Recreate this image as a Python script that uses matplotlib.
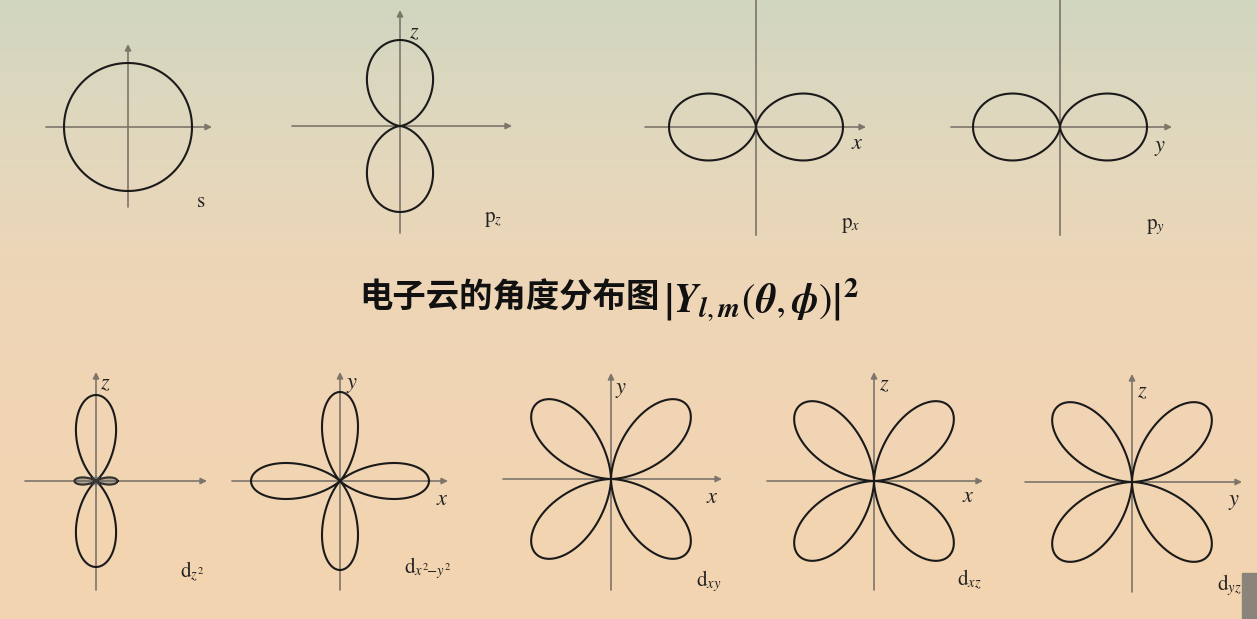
import numpy as np
import matplotlib
matplotlib.use("Agg")
import matplotlib.pyplot as plt

plt.rcParams['mathtext.fontset'] = 'stix'

# orbitals shown on the slide, top row then bottom row
shapes = ['s', 'pz', 'px', 'px', 'dz2', 'dx2y2', 'dxy', 'dxy', 'dxy']
orbital_labels = [r'$\mathrm{s}$', r'$\mathrm{p}_z$', r'$\mathrm{p}_x$', r'$\mathrm{p}_y$',
                  r'$\mathrm{d}_{z^2}$', r'$\mathrm{d}_{x^2\!\!-\!y^2}$',
                  r'$\mathrm{d}_{xy}$', r'$\mathrm{d}_{xz}$', r'$\mathrm{d}_{yz}$']
horiz_names = ['', '', 'x', 'y', '', 'x', 'x', 'x', 'y']
vert_names = ['', 'z', '', '', 'z', 'y', 'y', 'z', 'z']

title_cn = "电子云的角度分布图"
title_math = (r'$\left|\boldsymbol{Y}_{\boldsymbol{l,m}}\left(\boldsymbol{\theta},'
              r'\boldsymbol{\phi}\right)\right|^{\mathbf{2}}$')

# layout in pixels (y downwards)
centers = [(128, 127), (400, 126), (756, 127), (1060, 127),
           (96, 481), (340, 481), (611, 479), (874, 481), (1132, 482)]
scales = [64, 86, 87, 87, 86, 89, 106, 106, 106]
hspan = [(46, 212), (292, 512), (645, 866), (951, 1172),
         (25, 207), (232, 448), (503, 722), (767, 983), (1025, 1242)]
vspan = [(44, 207), (10, 233), (0, 235), (0, 235),
         (372, 590), (372, 590), (373, 590), (372, 590), (374, 592)]
up_arrow = [True, True, False, False, True, True, True, True, True]
label_pos = [(201, 201), (493, 219), (851, 225), (1155, 227),
             (192, 572), (428, 568), (709, 581), (969, 580), (1229, 585)]
hname_pos = [None, None, (857, 143), (1160, 148), None, (442, 499), (712, 497), (968, 496), (1234, 502)]
vname_pos = [None, (414, 32), None, None, (105, 383), (352, 385), (621, 390), (884, 384), (1142, 391)]


def shape_curve(kind):
    phi = np.linspace(0, 2 * np.pi, 1441)
    if kind == 's':
        r = np.ones_like(phi)
    elif kind == 'pz':
        r = np.sin(phi) ** 2
    elif kind == 'px':
        r = np.cos(phi) ** 2
    elif kind == 'dz2':
        r = (3 * np.sin(phi) ** 2 - 1) ** 2 / 4
    elif kind == 'dx2y2':
        r = np.cos(2 * phi) ** 2
    else:
        r = np.abs(np.sin(2 * phi)) ** 1.5
    return r * np.cos(phi), r * np.sin(phi)


fig = plt.figure(figsize=(12.57, 6.19), dpi=100)
ax = fig.add_axes([0, 0, 1, 1])
ax.set_xlim(0, 1257)
ax.set_ylim(619, 0)
ax.axis('off')

# slide background gradient
stops_y = [0, 120, 250, 400, 619]
stops_c = np.array([(209, 214, 192), (223, 216, 190), (236, 214, 184),
                    (241, 213, 180), (243, 212, 176)]) / 255
yy = np.arange(619)
grad = np.stack([np.interp(yy, stops_y, stops_c[:, k]) for k in range(3)], axis=-1)
ax.imshow(np.repeat(grad[:, None, :], 2, axis=1), extent=[0, 1257, 619, 0],
          aspect='auto', zorder=0)

axis_col = '#7d756b'
for i, kind in enumerate(shapes):
    cx, cy = centers[i]
    s = scales[i]
    # axes
    ax.annotate('', xy=(hspan[i][1], cy), xytext=(hspan[i][0], cy),
                arrowprops=dict(arrowstyle='-|>', color=axis_col, lw=1.2,
                                mutation_scale=9, shrinkA=0, shrinkB=0), zorder=2)
    if up_arrow[i]:
        ax.annotate('', xy=(cx, vspan[i][0]), xytext=(cx, vspan[i][1]),
                    arrowprops=dict(arrowstyle='-|>', color=axis_col, lw=1.2,
                                    mutation_scale=9, shrinkA=0, shrinkB=0), zorder=2)
    else:
        ax.plot([cx, cx], vspan[i], color=axis_col, lw=1.2, zorder=2)
    # curve
    x, y = shape_curve(kind)
    ax.plot(cx + s * x, cy - s * y, color='#1a1a1a', lw=1.5, zorder=3)
    if kind == 'dz2':
        small = np.abs(x) > np.abs(y)
        ax.fill(cx + s * x[small], cy - s * y[small], color='#555', alpha=0.35, zorder=3)
    # labels
    ax.text(*label_pos[i], orbital_labels[i], fontsize=15, ha='center', va='center',
            color='#222', zorder=4)
    if hname_pos[i]:
        ax.text(*hname_pos[i], '$' + horiz_names[i] + '$', fontsize=16, ha='center',
                va='center', color='#222', zorder=4)
    if vname_pos[i]:
        ax.text(*vname_pos[i], '$' + vert_names[i] + '$', fontsize=16, ha='center',
                va='center', color='#222', zorder=4)

# title
ax.text(660, 298, title_cn, fontsize=24, fontweight='bold', ha='right', va='center',
        family=['Noto Sans CJK SC', 'DejaVu Sans'], color='#111', zorder=4)
ax.text(663, 300, title_math, fontsize=29, ha='left', va='center', color='#111', zorder=4)

# grey block in the corner
ax.add_patch(plt.Rectangle((1242, 573), 15, 46, color='#8b847a', zorder=5))

fig.savefig('out.png', dpi=100)
